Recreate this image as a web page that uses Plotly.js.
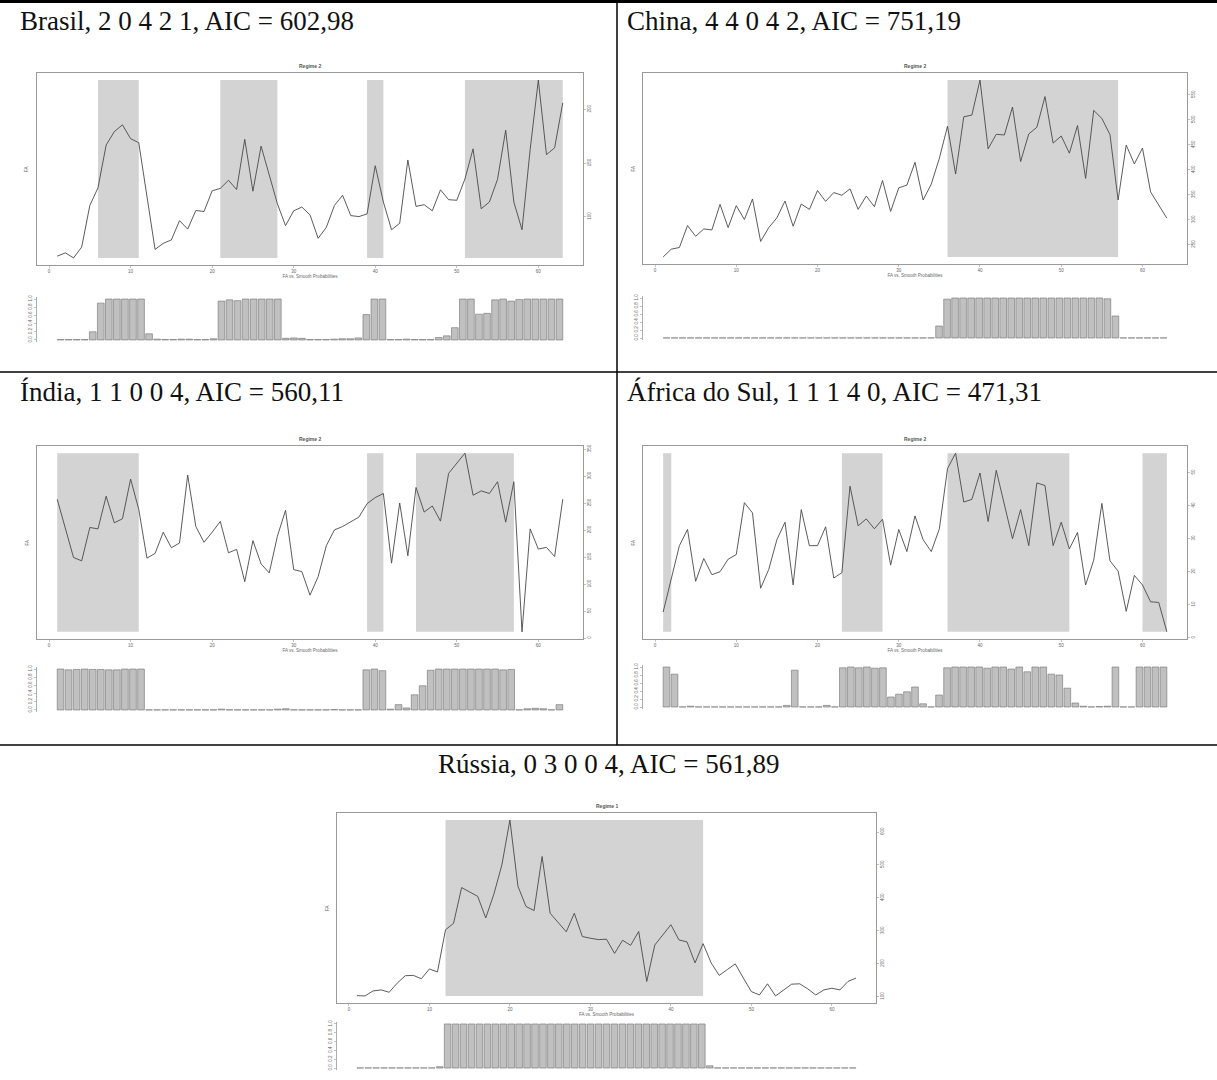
<!DOCTYPE html>
<html><head><meta charset="utf-8">
<script src="https://cdn.plot.ly/plotly-3.0.1.min.js"></script>
<style>html,body{margin:0;padding:0;background:#fff;}#chart{width:1217px;height:1080px;}</style>
</head><body><div id="chart"></div>
<script>
// ---------- DATA ----------
const obs = [1,2,3,4,5,6,7,8,9,10,11,12,13,14,15,16,17,18,19,20,21,22,23,24,25,26,27,28,29,30,31,32,33,34,35,36,37,38,39,40,41,42,43,44,45,46,47,48,49,50,51,52,53,54,55,56,57,58,59,60,61,62,63];
const xTicks = [0,10,20,30,40,50,60];
const probTicks = [0,0.2,0.4,0.6,0.8,1];
const probTickLabels = ["0.0","0.2","0.4","0.6","0.8","1.0"];
const xAxisLabel = "FA vs. Smooth Probabilities";
const yAxisLabel = "FA";

const brasilTitle = "Brasil, 2 0 4 2 1, AIC = 602,98";
const brasilRegime = "Regime 2";
const brasilFA = [63.0,66.1,61.4,71.5,110.4,126.9,166.8,179.4,185.7,172.8,
 169.0,119.9,69.3,75.0,78.2,96.2,88.3,105.7,104.7,124.1,
 126.3,133.9,125.3,172.2,123.7,165.8,138.9,112.0,91.5,105.4,
 108.9,101.6,79.7,89.9,110.4,119.9,100.9,100.0,102.5,147.5,
 113.6,87.7,93.7,152.9,109.5,111.1,105.4,125.0,115.8,115.2,
 135.1,163.3,107.3,113.6,134.8,180.7,113.6,87.7,162.7,227.5,
 157.9,164.2,206.3];
const brasilProb = [0.01,0.01,0.01,0.01,0.2,0.9,1,1,1,1,
 1,0.15,0.02,0.01,0.01,0.02,0.02,0.01,0.01,0.03,
 0.95,0.98,0.96,1,1,1,1,1,0.04,0.05,
 0.04,0.01,0.01,0.01,0.02,0.03,0.03,0.05,0.62,1,
 1,0.01,0.01,0.02,0.01,0.01,0.01,0.06,0.1,0.3,
 1,1,0.63,0.65,0.98,1,0.95,0.99,1,1,
 1,1,1];
const brasilRegions = [[6,11],[21,28],[39,41],[51,63]];
const brasilYTicks = [100,150,200];

const chinaTitle = "China, 4 4 0 4 2, AIC = 751,19";
const chinaRegime = "Regime 2";
const chinaFA = [225.7,241.2,244.6,288.4,266.9,281.7,279.7,330.9,284.4,328.2,
 300.6,341.7,256.7,284.4,303.9,337.6,287.1,331.6,320.8,358.5,
 336.9,354.5,349.1,361.9,320.8,347.7,326.2,378.7,316.7,363.9,
 369.3,415.1,339.6,371.3,423.2,487.2,391.5,506.1,509.5,579.6,
 442.1,471.1,469.7,525.7,416.5,471.7,485.2,546.6,453.5,467.7,
 433.3,488.6,382.8,518.9,502.8,470.4,339.6,449.5,411.8,443.4,
 355.8,328.9,303.2];
const chinaProb = [0.003,0.003,0.003,0.003,0.003,0.003,0.003,0.003,0.003,0.003,
 0.003,0.003,0.003,0.003,0.003,0.003,0.003,0.003,0.003,0.003,
 0.003,0.003,0.003,0.003,0.003,0.003,0.003,0.003,0.003,0.003,
 0.003,0.003,0.003,0.003,0.3,0.97,1,1,1,1,
 1,1,1,1,1,1,1,1,1,1,
 1,1,1,1,1,0.98,0.55,0.003,0.003,0.003,
 0.003,0.003,0.003];
const chinaRegions = [[36,57]];
const chinaYTicks = [250,300,350,400,450,500,550];

const indiaTitle = "Índia, 1 1 0 0 4, AIC = 560,11";
const indiaRegime = "Regime 2";
const indiaFA = [257.2,202.4,149.4,143.2,204.9,202.4,262.8,213.6,221.1,294.5,
 238.5,148.2,156.9,196.2,167.5,176.2,302.0,206.7,177.5,196.2,
 216.1,158.2,164.4,104.6,180.6,137.6,120.8,188.7,236.6,127.0,
 123.3,79.7,114.0,171.2,200.5,206.7,214.8,224.2,249.1,260.3,
 267.8,138.9,250.3,152.6,279.0,233.5,244.7,216.7,305.1,323.8,
 342.5,264.6,272.7,267.8,289.6,214.8,289.6,11.8,202.4,165.0,
 168.1,151.3,257.2];
const indiaProb = [1,0.98,0.99,1,0.99,0.99,0.98,0.98,1,1,
 1,0.003,0.003,0.003,0.003,0.003,0.003,0.003,0.003,0.003,
 0.02,0.003,0.003,0.003,0.003,0.003,0.003,0.02,0.03,0.003,
 0.003,0.003,0.003,0.003,0.01,0.003,0.003,0.003,0.98,1,
 0.96,0.02,0.13,0.05,0.37,0.59,0.97,1,1,1,
 1,1,1,1,1,0.98,0.99,0.003,0.03,0.04,
 0.03,0.003,0.13];
const indiaRegions = [[1,11],[39,41],[45,57]];
const indiaYTicks = [0,50,100,150,200,250,300,350];

const safricaTitle = "África do Sul, 1 1 1 4 0, AIC = 471,31";
const safricaRegime = "Regime 2";
const safricaFA = [7.8,17.9,27.9,32.8,17.1,24.0,19.1,20.0,23.8,25.2,
 40.9,37.8,15.0,20.7,29.7,35.0,16.0,38.8,27.9,27.9,
 33.6,18.1,19.7,45.9,33.9,36.0,33.0,35.9,22.0,32.8,
 26.1,36.9,29.7,26.1,33.0,51.2,55.9,41.1,41.9,49.9,
 35.2,50.7,40.4,30.0,38.8,27.9,46.9,46.1,27.9,35.0,
 26.9,31.9,16.0,23.5,40.7,23.3,20.2,8.0,18.9,16.0,
 10.9,10.7,1.8];
const safricaProb = [1,0.82,0.003,0.02,0.003,0.003,0.003,0.003,0.003,0.003,
 0.003,0.003,0.003,0.003,0.003,0.04,0.92,0.003,0.003,0.003,
 0.04,0.003,0.98,1,0.98,1,0.97,0.98,0.25,0.32,
 0.38,0.5,0.08,0.003,0.3,0.98,1,1,1,1,
 0.97,1,1,0.95,1,0.88,1,1,0.82,0.8,
 0.47,0.1,0.02,0.003,0.01,0.02,1,0.003,0.003,1,
 1,1,1];
const safricaRegions = [[1,2],[23,28],[36,51],[60,63]];
const safricaYTicks = [0,10,20,30,40,50];

const russiaTitle = "Rússia, 0 3 0 0 4, AIC = 561,89";
const russiaRegime = "Regime 1";
const russiaFA = [103.1,102.1,117.4,120.5,113.3,141.0,163.6,164.6,154.4,184.1,
 174.9,303.1,322.6,431.3,417.9,404.6,339.0,410.8,500.0,636.4,
 435.4,373.9,361.5,525.6,353.3,325.6,296.9,353.3,282.6,277.4,
 273.3,274.4,231.3,271.3,255.9,298.0,146.2,256.9,287.7,318.5,
 272.3,266.2,202.6,261.0,202.6,164.6,182.1,199.5,156.4,115.4,
 105.1,139.0,102.1,120.5,137.9,139.0,123.6,105.1,120.5,125.6,
 120.5,146.2,156.4];
const russiaProb = [0.003,0.003,0.003,0.003,0.003,0.003,0.003,0.003,0.003,0.003,
 0.03,1,1,1,1,1,1,1,1,1,
 1,1,1,1,1,1,1,1,1,1,
 1,1,1,1,1,1,1,1,1,1,
 1,1,1,1,0.05,0.003,0.003,0.003,0.003,0.003,
 0.003,0.003,0.003,0.003,0.003,0.003,0.003,0.003,0.003,0.003,
 0.003,0.003,0.003];
const russiaRegions = [[12,44]];
const russiaYTicks = [100,200,300,400,500,600];

// ---------- LAYOUT ----------
const W = 1217, H = 1080;
const px = v => v / W, py = v => 1 - v / H;
const panels = [
  {title: brasilTitle, regime: brasilRegime, fa: brasilFA, prob: brasilProb, regions: brasilRegions, yticks: brasilYTicks,
   frame: [37, 583, 73, 265], bar: [297.4, 341.6], tx: 18, ty: 21, ta: 'left'},
  {title: chinaTitle, regime: chinaRegime, fa: chinaFA, prob: chinaProb, regions: chinaRegions, yticks: chinaYTicks,
   frame: [643, 1187, 73, 264], bar: [296.4, 339.6], tx: 625, ty: 21, ta: 'left'},
  {title: indiaTitle, regime: indiaRegime, fa: indiaFA, prob: indiaProb, regions: indiaRegions, yticks: indiaYTicks,
   frame: [37, 583, 446, 639], bar: [667.4, 711.6], tx: 18, ty: 392, ta: 'left'},
  {title: safricaTitle, regime: safricaRegime, fa: safricaFA, prob: safricaProb, regions: safricaRegions, yticks: safricaYTicks,
   frame: [643, 1187, 446, 639], bar: [665.4, 708.6], tx: 625, ty: 392, ta: 'left'},
  {title: russiaTitle, regime: russiaRegime, fa: russiaFA, prob: russiaProb, regions: russiaRegions, yticks: russiaYTicks,
   frame: [337, 876, 813, 1003], bar: [1022.2, 1069.8], tx: 609, ty: 764, ta: 'center'}
];

const axisCol = '#999999', tickFont = {size: 4.5, color: '#666', family: 'Liberation Sans, Arial, sans-serif'};
const data = [];
const layout = {
  width: W, height: H, margin: {l: 0, r: 0, t: 0, b: 0}, showlegend: false,
  paper_bgcolor: '#ffffff', plot_bgcolor: '#ffffff', bargap: 0.2 / 1.2,
  font: {family: 'Liberation Sans, Arial, sans-serif', size: 5, color: '#666'},
  shapes: [], annotations: []
};

panels.forEach((p, k) => {
  const a = 2 * k + 1, b = 2 * k + 2;
  const sa = a === 1 ? '' : String(a);
  const xa = 'x' + sa, ya = 'y' + sa, xb = 'x' + b, yb = 'y' + b;
  const n = p.fa.length;
  const lo = Math.min(...p.fa), hi = Math.max(...p.fa), ext = (hi - lo) * 0.04;

  data.push({type: 'scatter', mode: 'lines', x: obs, y: p.fa, xaxis: xa, yaxis: ya,
             line: {color: '#4a4a4a', width: 0.9}, hoverinfo: 'skip'});
  data.push({type: 'bar', x: obs, y: p.prob, xaxis: xb, yaxis: yb,
             marker: {color: '#c0c0c0', line: {color: '#707070', width: 0.6}}, hoverinfo: 'skip'});

  const xd = [px(p.frame[0]), px(p.frame[1])];
  layout['xaxis' + sa] = {domain: xd, anchor: ya, range: [1 - (n - 1) * 0.04, n + (n - 1) * 0.04],
    showgrid: false, zeroline: false, showline: true, mirror: true, linecolor: axisCol, linewidth: 1,
    ticks: 'outside', ticklen: 2, tickwidth: 0.6, tickcolor: axisCol, tickvals: xTicks, tickfont: tickFont,
    title: {text: xAxisLabel, font: tickFont, standoff: 1}, fixedrange: true};
  layout['yaxis' + sa] = {domain: [py(p.frame[3]), py(p.frame[2])], anchor: xa, side: 'right',
    range: [lo - ext, hi + ext], showgrid: false, zeroline: false, showline: true, mirror: true,
    linecolor: axisCol, linewidth: 1, ticks: 'outside', ticklen: 2, tickwidth: 0.6, tickcolor: axisCol,
    tickvals: p.yticks, tickangle: -90, tickfont: tickFont, fixedrange: true};

  const extb = (n * 1.2 - 0.2) * 0.04 / 1.2, half = 0.5 / 1.2;
  layout['xaxis' + b] = {domain: xd, anchor: yb, range: [1 - half - extb, n + half + extb],
    visible: false, showgrid: false, zeroline: false, fixedrange: true};
  layout['yaxis' + b] = {domain: [py(p.bar[1]), py(p.bar[0])], anchor: xb, range: [-0.04, 1.04],
    side: 'left', showgrid: false, zeroline: false, showline: true, linecolor: axisCol, linewidth: 0.8,
    ticks: 'outside', ticklen: 2, tickwidth: 0.6, tickcolor: axisCol, tickvals: probTicks, ticktext: probTickLabels,
    tickangle: -90, tickfont: tickFont, fixedrange: true};

  p.regions.forEach(r => {
    layout.shapes.push({type: 'rect', xref: xa, yref: ya, x0: r[0], x1: r[1], y0: lo, y1: hi,
      fillcolor: '#d3d3d3', line: {width: 0}, layer: 'below'});
  });

  layout.annotations.push({xref: 'paper', yref: 'paper', x: px((p.frame[0] + p.frame[1]) / 2), y: py(p.frame[2] - 7),
    text: '<b>' + p.regime + '</b>', showarrow: false, xanchor: 'center', yanchor: 'middle',
    font: {size: 5, color: '#555'}});
  layout.annotations.push({xref: 'paper', yref: 'paper', x: px(p.frame[0] - 10), y: py((p.frame[2] + p.frame[3]) / 2),
    text: yAxisLabel, textangle: -90, showarrow: false, xanchor: 'center', yanchor: 'middle', font: tickFont});
  layout.annotations.push({xref: 'paper', yref: 'paper', x: px(p.tx), y: py(p.ty), text: p.title,
    showarrow: false, xanchor: p.ta, yanchor: 'middle',
    font: {family: 'Liberation Serif, Times New Roman, serif', size: 27, color: '#111'}});
});

// table rules
const rule = (x0, y0, x1, y1, w) => ({type: 'line', xref: 'paper', yref: 'paper',
  x0: px(x0), y0: py(y0), x1: px(x1), y1: py(y1), line: {color: '#000', width: w}, layer: 'above'});
layout.shapes.push(rule(0, 1.5, W, 1.5, 3));
layout.shapes.push(rule(0, 372, W, 372, 1.5));
layout.shapes.push(rule(0, 745, W, 745, 1.5));
layout.shapes.push(rule(617, 0, 617, 745, 1.5));

Plotly.newPlot('chart', data, layout, {staticPlot: true, displayModeBar: false});
</script></body></html>
